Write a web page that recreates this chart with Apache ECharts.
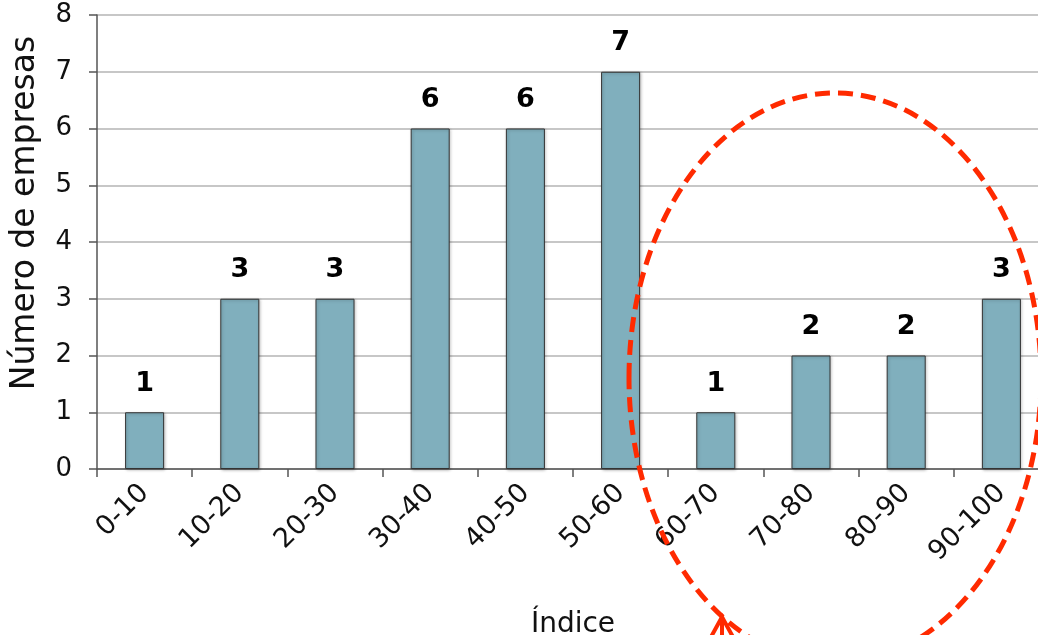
<!DOCTYPE html>
<html>
<head>
<meta charset="utf-8">
<script src="https://cdn.jsdelivr.net/npm/echarts@6/dist/echarts.min.js"></script>
<style>
html,body{margin:0;padding:0;background:#fff;overflow:hidden;}
#chart{width:1038px;height:635px;}
</style>
</head>
<body>
<div id="chart"></div>
<script>
const categories = ['0-10','10-20','20-30','30-40','40-50','50-60','60-70','70-80','80-90','90-100'];
const values = [1,3,3,6,6,7,1,2,2,3];
const yTicks = [0,1,2,3,4,5,6,7,8];
const xTitle = 'Índice';
const yTitle = 'Número de empresas';

const FONT = 'DejaVu Sans';
const chart = echarts.init(document.getElementById('chart'));
chart.setOption({
  animation: false,
  backgroundColor: '#ffffff',
  grid: { left: 97, top: 15, right: -11, bottom: 166, containLabel: false, outerBoundsMode: 'none' },
  xAxis: {
    type: 'category',
    data: categories,
    name: xTitle,
    nameLocation: 'middle',
    nameGap: 142,
    nameTextStyle: { fontFamily: FONT, fontSize: 28, color: '#111' },
    axisLine: { lineStyle: { color: '#555', width: 1.5 } },
    axisTick: { show: true, length: 8, lineStyle: { color: '#555', width: 1.5 } },
    axisLabel: { rotate: 45, fontFamily: FONT, fontSize: 27, color: '#111', margin: 20 }
  },
  yAxis: {
    type: 'value',
    min: yTicks[0],
    max: yTicks[yTicks.length - 1],
    interval: 1,
    name: yTitle,
    nameLocation: 'middle',
    nameGap: 55,
    nameTextStyle: { fontFamily: FONT, fontSize: 33, color: '#111', padding: [0, 0, 0, 58] },
    axisLine: { show: true, lineStyle: { color: '#555', width: 1.5 } },
    axisTick: { show: true, length: 8, lineStyle: { color: '#555', width: 1.5 } },
    axisLabel: { fontFamily: FONT, fontSize: 26, color: '#111', margin: 25 },
    splitLine: { lineStyle: { color: '#b5b5b5', width: 1.5 } }
  },
  series: [{
    type: 'bar',
    data: values,
    barWidth: '41%',
    itemStyle: { color: '#80afbd', borderColor: '#333', borderWidth: 1, shadowColor: 'rgba(0,0,0,0.25)', shadowBlur: 3, shadowOffsetX: 1, shadowOffsetY: 1 },
    label: { show: true, position: 'top', distance: 15, fontFamily: FONT, fontWeight: 'bold', fontSize: 27, color: '#000' }
  }],
  graphic: [
    {
      type: 'ellipse', z: 100,
      shape: { cx: 835, cy: 378, rx: 206, ry: 285 },
      style: { fill: 'none', stroke: '#ff2a00', lineWidth: 5, lineDash: [15, 8] }
    },
    {
      type: 'polyline', z: 100,
      shape: { points: [[711, 637], [722, 617], [733, 637]] },
      style: { fill: 'none', stroke: '#ff2a00', lineWidth: 4 }
    },
    {
      type: 'line', z: 100,
      shape: { x1: 722, y1: 617, x2: 722, y2: 640 },
      style: { stroke: '#ff2a00', lineWidth: 4 }
    }
  ]
});
</script>
</body>
</html>
